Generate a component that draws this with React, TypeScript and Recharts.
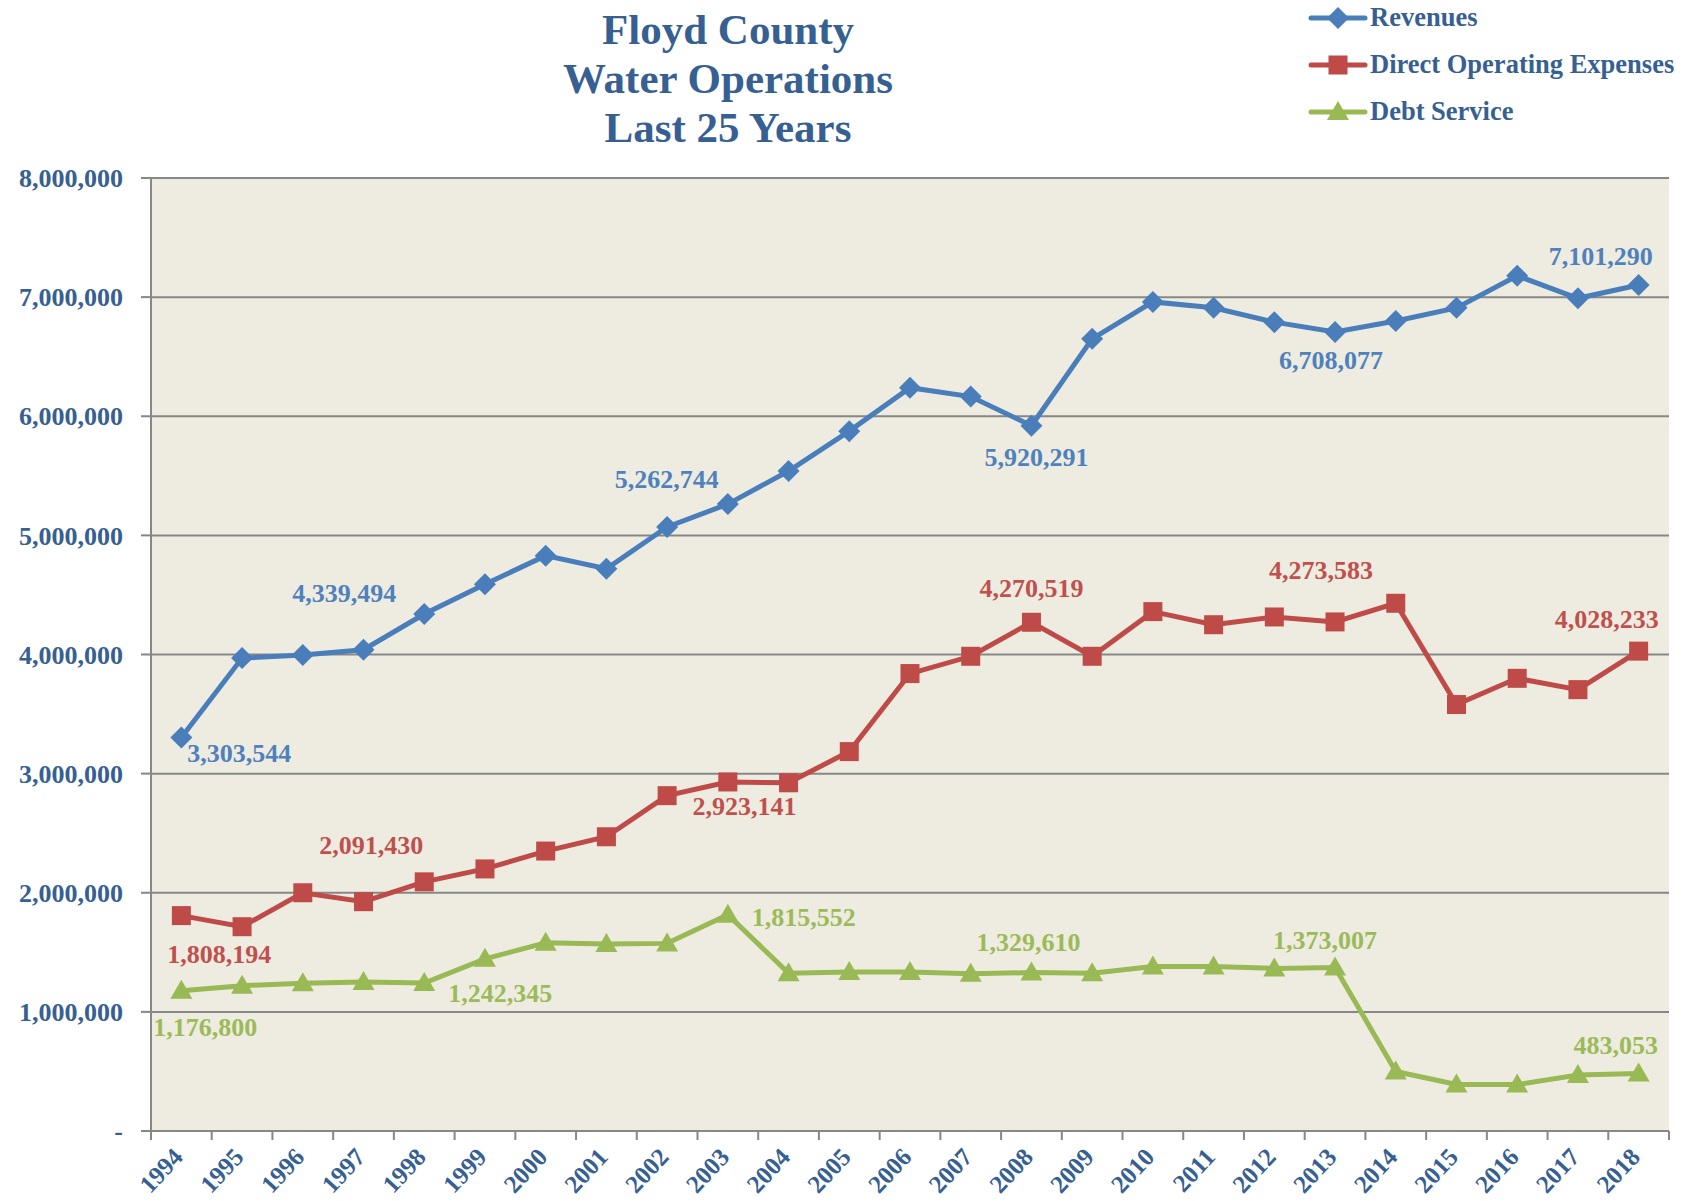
import React from "react";
import { LineChart, Line, XAxis, YAxis, CartesianGrid, LabelList, Legend } from "recharts";

const years = [
  "1994", "1995", "1996", "1997", "1998", "1999", "2000", "2001", "2002", "2003",
  "2004", "2005", "2006", "2007", "2008", "2009", "2010", "2011", "2012", "2013",
  "2014", "2015", "2016", "2017", "2018",
];

const revenues = [
  3303544, 3970000, 3995000, 4040000, 4339494, 4590000, 4830000, 4720000, 5070000, 5262744,
  5540000, 5875000, 6240000, 6165000, 5920291, 6650000, 6960000, 6910000, 6790000, 6708077,
  6800000, 6910000, 7180000, 6990000, 7101290,
];

const expenses = [
  1808194, 1715000, 2000000, 1925000, 2091430, 2200000, 2350000, 2470000, 2815000, 2930000,
  2923141, 3185000, 3840000, 3985000, 4270519, 3985000, 4360000, 4250000, 4315000, 4273583,
  4430000, 3580000, 3800000, 3705000, 4028233,
];

const debtService = [
  1176800, 1220000, 1240000, 1250000, 1242345, 1445000, 1580000, 1570000, 1575000, 1815552,
  1325000, 1335000, 1335000, 1320000, 1329610, 1325000, 1380000, 1380000, 1365000, 1373007,
  500000, 390000, 390000, 470000, 483053,
];

const yTicks = [0, 1000000, 2000000, 3000000, 4000000, 5000000, 6000000, 7000000, 8000000];

const titleLines = ["Floyd County", "Water Operations", "Last 25 Years"];

const data = years.map((year, i) => ({
  year,
  revenues: revenues[i],
  expenses: expenses[i],
  debt: debtService[i],
}));

// label placement (offset from the point), by index
const revLabelPos: Record<number, [number, number]> = {
  0: [58, 16], 4: [-80, -21], 9: [-61, -25], 14: [5, 32], 19: [-4, 29], 24: [-38, -29],
};
const expLabelPos: Record<number, [number, number]> = {
  0: [38, 39], 4: [-53, -36], 10: [-44, 24], 14: [0, -34], 19: [-14, -51], 24: [-32, -32],
};
const debtLabelPos: Record<number, [number, number]> = {
  0: [24, 37], 4: [76, 10], 9: [76, 3], 14: [-3, -30], 19: [-10, -27], 24: [-23, -28],
};

const W = 1696;
const H = 1201;
const PLOT_LEFT = 151;
const PLOT_RIGHT = 1669;
const PLOT_TOP = 178;
const PLOT_BOTTOM = 1131;
const HALF_BAND = (PLOT_RIGHT - PLOT_LEFT) / years.length / 2;

const FONT = "'Liberation Serif', 'Times New Roman', serif";
const TEXT_BLUE = "#376092";
const BLUE = "#4A7EBB";
const RED = "#BE4B48";
const GREEN = "#98B954";
const GRID = "#878787";

const fmt = (v: number) => (v === 0 ? "-" : v.toLocaleString("en-US"));

const makeLabel = (pos: Record<number, [number, number]>, color: string) => (props: any) => {
  const { x, y, value, index } = props;
  const off = pos[index];
  if (!off) return null;
  return (
    <text
      key={`l-${index}`}
      x={x + off[0]}
      y={y + off[1]}
      textAnchor="middle"
      dominantBaseline="central"
      fill={color}
      fontSize={26}
      fontWeight="bold"
      fontFamily={FONT}
    >
      {Number(value).toLocaleString("en-US")}
    </text>
  );
};

const diamond = (cx: number, cy: number, color: string, key?: string) => (
  <polygon
    key={key}
    points={`${cx},${cy - 11} ${cx + 11},${cy} ${cx},${cy + 11} ${cx - 11},${cy}`}
    fill={color}
  />
);
const square = (cx: number, cy: number, color: string, key?: string) => (
  <rect key={key} x={cx - 9.5} y={cy - 9.5} width={19} height={19} fill={color} />
);
const triangle = (cx: number, cy: number, color: string, key?: string) => (
  <polygon
    key={key}
    points={`${cx},${cy - 11} ${cx + 11},${cy + 8} ${cx - 11},${cy + 8}`}
    fill={color}
  />
);

const YearTick = (props: any) => {
  const { x, payload, index } = props;
  const tx = x + 3;
  const ty = PLOT_BOTTOM + 27;
  return (
    <g>
      <line x1={x - HALF_BAND} x2={x - HALF_BAND} y1={PLOT_BOTTOM} y2={PLOT_BOTTOM + 9} stroke={GRID} strokeWidth={2} />
      {index === years.length - 1 && (
        <line x1={x + HALF_BAND} x2={x + HALF_BAND} y1={PLOT_BOTTOM} y2={PLOT_BOTTOM + 9} stroke={GRID} strokeWidth={2} />
      )}
      <text
        x={tx}
        y={ty}
        textAnchor="end"
        transform={`rotate(-47, ${tx}, ${ty})`}
        fill={TEXT_BLUE}
        fontSize={25}
        fontWeight="bold"
        fontFamily={FONT}
      >
        {payload.value}
      </text>
    </g>
  );
};

const legendItems = [
  { name: "Revenues", color: BLUE, marker: diamond },
  { name: "Direct Operating Expenses", color: RED, marker: square },
  { name: "Debt Service", color: GREEN, marker: triangle },
];

const LegendBox = () => (
  <div>
    {legendItems.map((it) => (
      <div key={it.name} style={{ display: "flex", alignItems: "center", height: 47 }}>
        <svg width={60} height={30}>
          <line x1={3} x2={57} y1={15} y2={15} stroke={it.color} strokeWidth={5} strokeLinecap="round" />
          {it.marker(30, 15, it.color)}
        </svg>
        <span
          style={{
            fontFamily: FONT,
            fontWeight: "bold",
            fontSize: 26.5,
            color: TEXT_BLUE,
            marginLeft: 2,
            whiteSpace: "nowrap",
          }}
        >
          {it.name}
        </span>
      </div>
    ))}
  </div>
);

export default function App() {
  return (
    <div style={{ position: "absolute", left: 0, top: 0, width: W, height: H, background: "#fff" }}>
      <div
        style={{
          position: "absolute",
          left: 428,
          top: 5,
          width: 600,
          textAlign: "center",
          fontFamily: FONT,
          fontWeight: "bold",
          fontSize: 43,
          lineHeight: "49px",
          color: TEXT_BLUE,
        }}
      >
        {titleLines.map((t) => (
          <div key={t}>{t}</div>
        ))}
      </div>
      <LineChart
        width={W}
        height={H}
        data={data}
        margin={{ top: PLOT_TOP, right: W - PLOT_RIGHT, bottom: 0, left: 0 }}
      >
        <CartesianGrid vertical={false} fill="#EEECE1" stroke={GRID} strokeWidth={2} />
        <XAxis
          dataKey="year"
          height={H - PLOT_BOTTOM}
          padding={{ left: HALF_BAND, right: HALF_BAND }}
          axisLine={{ stroke: GRID, strokeWidth: 2 }}
          tickLine={false}
          tick={<YearTick />}
          interval={0}
        />
        <YAxis
          width={PLOT_LEFT}
          domain={[0, 8000000]}
          ticks={yTicks}
          tickFormatter={fmt}
          axisLine={{ stroke: GRID, strokeWidth: 2 }}
          tickLine={{ stroke: GRID, strokeWidth: 2 }}
          tickSize={10}
          tickMargin={18}
          tick={{ fill: TEXT_BLUE, fontSize: 26, fontWeight: "bold", fontFamily: FONT }}
        />
        <Legend
          layout="vertical"
          align="center"
          verticalAlign="middle"
          content={<LegendBox />}
          wrapperStyle={{ top: -6, left: 1308, width: 388 }}
        />
        <Line
          dataKey="revenues"
          name="Revenues"
          stroke={BLUE}
          strokeWidth={5}
          dot={(p: any) => diamond(p.cx, p.cy, BLUE, `r-${p.index}`)}
          activeDot={false}
          isAnimationActive={false}
        >
          <LabelList dataKey="revenues" content={makeLabel(revLabelPos, "#4F81BD")} />
        </Line>
        <Line
          dataKey="expenses"
          name="Direct Operating Expenses"
          stroke={RED}
          strokeWidth={5}
          dot={(p: any) => square(p.cx, p.cy, RED, `e-${p.index}`)}
          activeDot={false}
          isAnimationActive={false}
        >
          <LabelList dataKey="expenses" content={makeLabel(expLabelPos, "#C0504D")} />
        </Line>
        <Line
          dataKey="debt"
          name="Debt Service"
          stroke={GREEN}
          strokeWidth={5}
          dot={(p: any) => triangle(p.cx, p.cy, GREEN, `d-${p.index}`)}
          activeDot={false}
          isAnimationActive={false}
        >
          <LabelList dataKey="debt" content={makeLabel(debtLabelPos, "#9BBB59")} />
        </Line>
      </LineChart>
    </div>
  );
}
